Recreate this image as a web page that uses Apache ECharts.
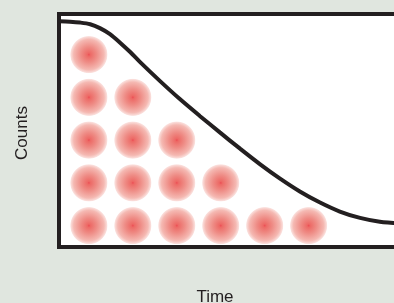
<!DOCTYPE html>
<html>
<head>
<meta charset="utf-8">
<script src="https://cdn.jsdelivr.net/npm/echarts@6/dist/echarts.min.js"></script>
<style>
  html, body { margin: 0; padding: 0; background: #e0e6df; overflow: hidden; }
  /* wider than the window so the plot box runs off the right edge */
  #main { width: 440px; height: 303px; }
</style>
</head>
<body>
<div id="main"></div>
<script>
// columns of particles: time position and how many stacked
var columnTimes = [0.68, 1.68, 2.68, 3.68, 4.68, 5.68];
var columnCounts = [5, 4, 3, 2, 1, 1];
var rowLevels = [0.5, 1.5, 2.5, 3.5, 4.5];

// decay curve
var curveTime = [0, 0.25, 0.48, 0.71, 0.93, 1.16, 1.39, 1.62, 1.84, 2.30, 2.75, 3.21, 3.66, 4.12, 4.57, 5.03, 5.48, 5.94, 6.39, 6.85, 7.30, 7.76];
var curveCounts = [5.28, 5.27, 5.25, 5.21, 5.12, 4.98, 4.78, 4.56, 4.33, 3.88, 3.46, 3.06, 2.68, 2.30, 1.94, 1.60, 1.30, 1.04, 0.83, 0.68, 0.59, 0.55];

var axisTitles = ['Time', 'Counts'];

var particles = [];
for (var i = 0; i < columnTimes.length; i++) {
    for (var r = 0; r < columnCounts[i]; r++) {
        particles.push([columnTimes[i], rowLevels[r]]);
    }
}
var curve = curveTime.map(function (t, i) { return [t, curveCounts[i]]; });

var ink = '#231f20';
var font = '"Liberation Sans", Arial, sans-serif';

var chart = echarts.init(document.getElementById('main'));
chart.setOption({
    backgroundColor: '#e0e6df',
    animation: false,
    grid: {
        left: 59, top: 14, width: 374, bottom: 56,
        show: true,
        backgroundColor: '#ffffff',
        borderColor: ink,
        borderWidth: 4
    },
    xAxis: {
        type: 'value', min: 0, max: 8.51,
        axisLine: { show: false }, axisTick: { show: false },
        axisLabel: { show: false }, splitLine: { show: false }
    },
    yAxis: {
        type: 'value', min: 0, max: 5.45,
        axisLine: { show: false }, axisTick: { show: false },
        axisLabel: { show: false }, splitLine: { show: false }
    },
    graphic: [
        {
            type: 'text', x: 215, y: 297,
            style: { text: axisTitles[0], font: '17px ' + font, fill: ink, align: 'center', verticalAlign: 'middle' }
        },
        {
            type: 'text', x: 22, y: 133, rotation: Math.PI / 2,
            style: { text: axisTitles[1], font: '17px ' + font, fill: ink, align: 'center', verticalAlign: 'middle' }
        }
    ],
    series: [
        {
            type: 'scatter',
            data: particles,
            symbol: 'circle',
            symbolSize: 38,
            itemStyle: {
                color: new echarts.graphic.RadialGradient(0.5, 0.5, 0.5, [
                    { offset: 0, color: '#e8202a' },
                    { offset: 0.08, color: '#e8443f' },
                    { offset: 0.4, color: '#ea6e66' },
                    { offset: 0.8, color: '#f2a79f' },
                    { offset: 0.95, color: '#f9d6d2' },
                    { offset: 1, color: 'rgba(252,230,228,0)' }
                ])
            },
            z: 2
        },
        {
            type: 'line',
            data: curve,
            smooth: 0.3,
            symbol: 'none',
            lineStyle: { color: ink, width: 4 },
            z: 3
        }
    ]
});
</script>
</body>
</html>
